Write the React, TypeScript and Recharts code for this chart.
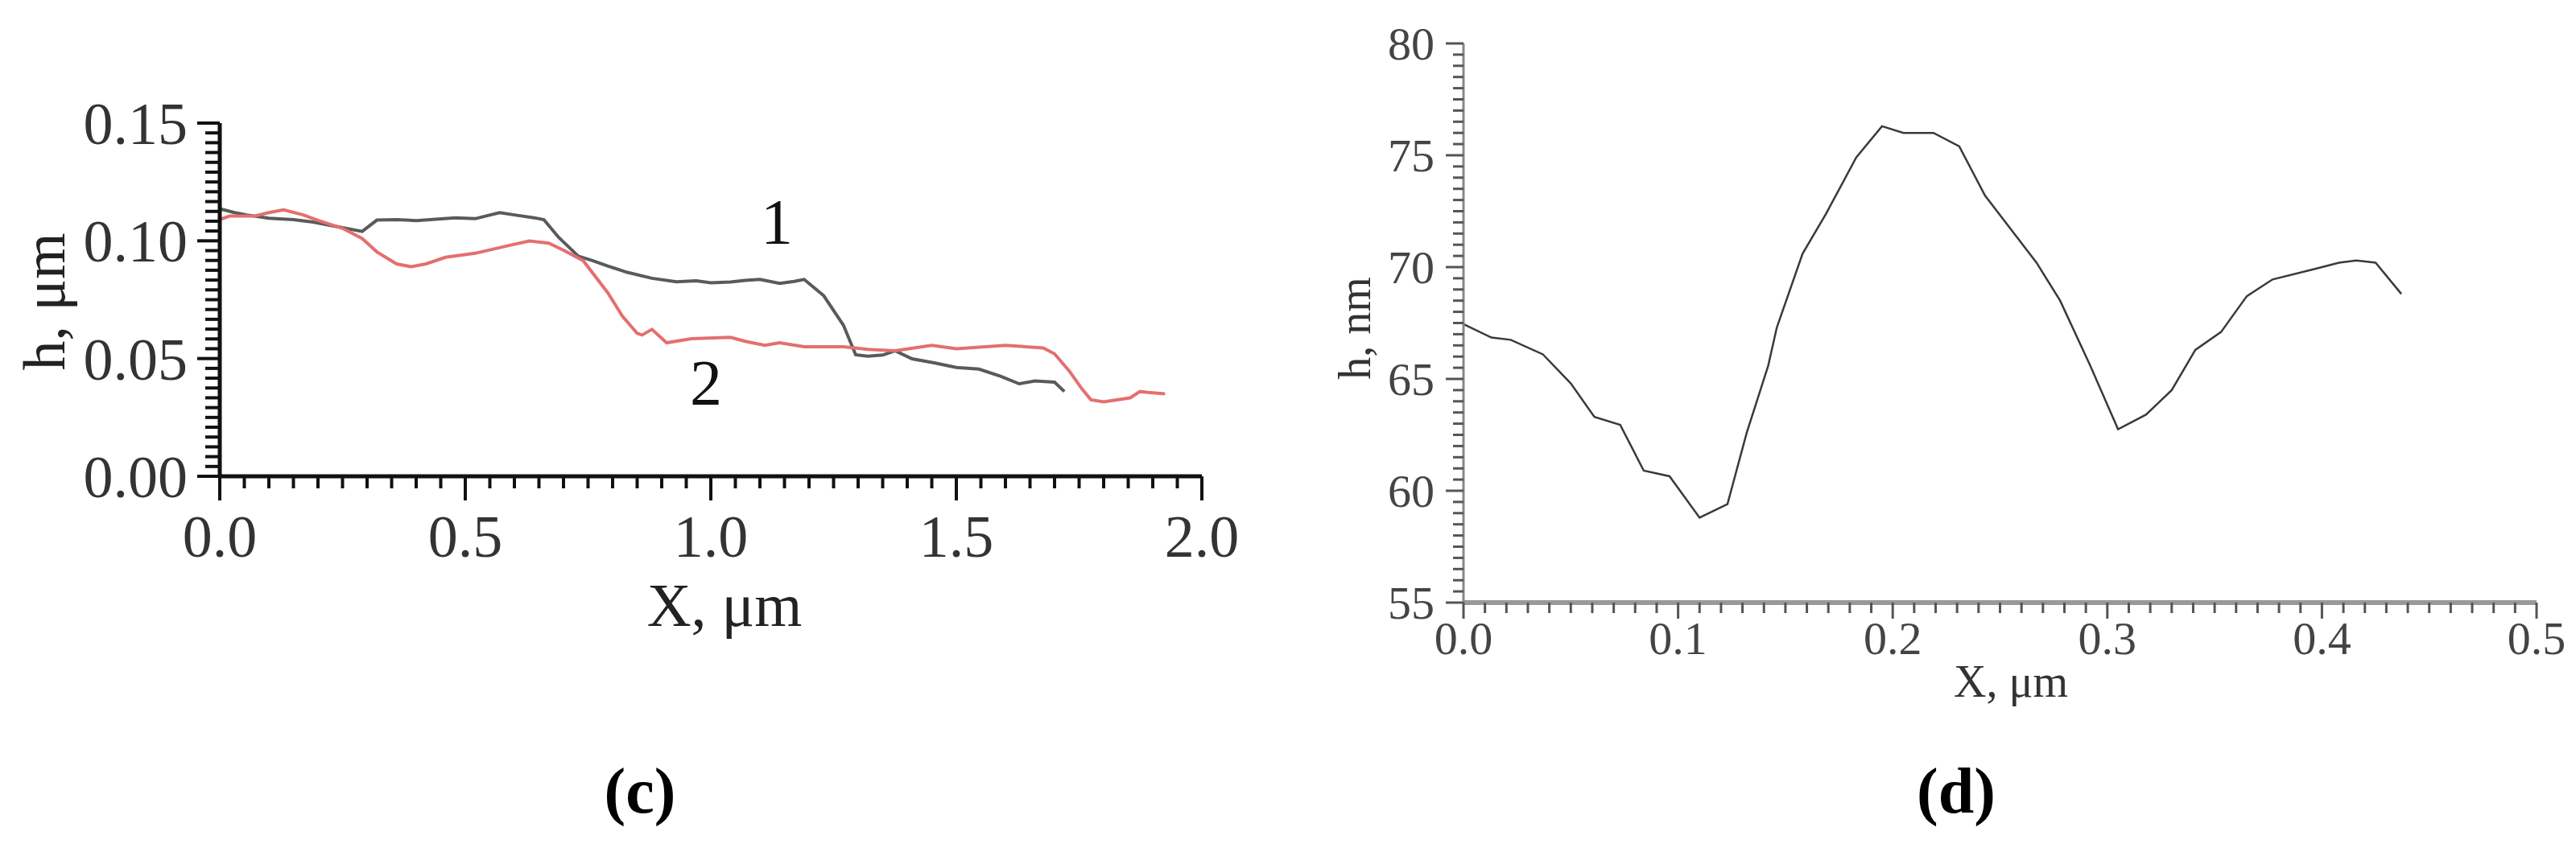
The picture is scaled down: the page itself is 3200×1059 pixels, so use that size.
import { Line, LineChart, XAxis, YAxis } from "recharts";

// panel (c): two height profiles, X in µm, h in µm
const profile1 = [
  { x: 0.0, h: 0.1136 }, { x: 0.03, h: 0.112 }, { x: 0.055, h: 0.111 }, { x: 0.1, h: 0.1096 },
  { x: 0.15, h: 0.109 }, { x: 0.19, h: 0.108 }, { x: 0.25, h: 0.1056 }, { x: 0.29, h: 0.104 },
  { x: 0.32, h: 0.1088 }, { x: 0.36, h: 0.109 }, { x: 0.4, h: 0.1086 }, { x: 0.44, h: 0.1092 },
  { x: 0.48, h: 0.1098 }, { x: 0.52, h: 0.1094 }, { x: 0.57, h: 0.112 }, { x: 0.6, h: 0.111 },
  { x: 0.64, h: 0.1098 }, { x: 0.66, h: 0.109 }, { x: 0.69, h: 0.1015 }, { x: 0.73, h: 0.0935 },
  { x: 0.76, h: 0.0915 }, { x: 0.79, h: 0.0893 }, { x: 0.83, h: 0.0866 }, { x: 0.88, h: 0.0841 },
  { x: 0.93, h: 0.0826 }, { x: 0.97, h: 0.083 }, { x: 1.0, h: 0.0822 }, { x: 1.04, h: 0.0825 },
  { x: 1.07, h: 0.0832 }, { x: 1.1, h: 0.0836 }, { x: 1.14, h: 0.0819 }, { x: 1.17, h: 0.0828 },
  { x: 1.19, h: 0.0836 }, { x: 1.23, h: 0.0767 }, { x: 1.27, h: 0.0642 }, { x: 1.295, h: 0.0516 },
  { x: 1.32, h: 0.051 }, { x: 1.35, h: 0.0515 }, { x: 1.375, h: 0.0533 }, { x: 1.41, h: 0.0499 },
  { x: 1.455, h: 0.0482 }, { x: 1.5, h: 0.0462 }, { x: 1.546, h: 0.0455 }, { x: 1.59, h: 0.0425 },
  { x: 1.628, h: 0.0393 }, { x: 1.66, h: 0.0405 }, { x: 1.7, h: 0.04 }, { x: 1.72, h: 0.036 },
];

const profile2 = [
  { x: 0.0, h: 0.109 }, { x: 0.02, h: 0.1105 }, { x: 0.07, h: 0.1105 }, { x: 0.1, h: 0.112 },
  { x: 0.13, h: 0.1132 }, { x: 0.17, h: 0.111 }, { x: 0.2, h: 0.1087 }, { x: 0.25, h: 0.1053 },
  { x: 0.29, h: 0.101 }, { x: 0.32, h: 0.0953 }, { x: 0.36, h: 0.0902 }, { x: 0.39, h: 0.089 },
  { x: 0.42, h: 0.0902 }, { x: 0.46, h: 0.093 }, { x: 0.52, h: 0.0947 }, { x: 0.58, h: 0.0976 },
  { x: 0.63, h: 0.0999 }, { x: 0.67, h: 0.099 }, { x: 0.7, h: 0.096 }, { x: 0.74, h: 0.0916 },
  { x: 0.79, h: 0.078 }, { x: 0.82, h: 0.068 }, { x: 0.85, h: 0.0607 }, { x: 0.86, h: 0.06 },
  { x: 0.88, h: 0.0624 }, { x: 0.91, h: 0.0567 }, { x: 0.96, h: 0.0584 }, { x: 1.04, h: 0.059 },
  { x: 1.07, h: 0.0573 }, { x: 1.11, h: 0.0556 }, { x: 1.14, h: 0.0567 }, { x: 1.19, h: 0.055 },
  { x: 1.27, h: 0.055 }, { x: 1.32, h: 0.0539 }, { x: 1.375, h: 0.0533 }, { x: 1.45, h: 0.0556 },
  { x: 1.5, h: 0.0542 }, { x: 1.6, h: 0.0556 }, { x: 1.677, h: 0.0545 }, { x: 1.7, h: 0.052 },
  { x: 1.73, h: 0.0447 }, { x: 1.757, h: 0.0368 }, { x: 1.774, h: 0.0325 }, { x: 1.8, h: 0.0316 },
  { x: 1.854, h: 0.0333 }, { x: 1.874, h: 0.036 }, { x: 1.89, h: 0.0356 }, { x: 1.925, h: 0.035 },
];

// panel (d): single profile, X in µm, h in nm
const profileD = [
  { x: 0.0, h: 67.45 }, { x: 0.013, h: 66.85 }, { x: 0.022, h: 66.75 }, { x: 0.037, h: 66.1 },
  { x: 0.05, h: 64.8 }, { x: 0.061, h: 63.3 }, { x: 0.073, h: 62.95 }, { x: 0.084, h: 60.9 },
  { x: 0.096, h: 60.65 }, { x: 0.11, h: 58.8 }, { x: 0.123, h: 59.4 }, { x: 0.132, h: 62.6 },
  { x: 0.142, h: 65.6 }, { x: 0.146, h: 67.3 }, { x: 0.158, h: 70.6 }, { x: 0.169, h: 72.4 },
  { x: 0.183, h: 74.9 }, { x: 0.195, h: 76.3 }, { x: 0.205, h: 76.0 }, { x: 0.219, h: 76.0 },
  { x: 0.231, h: 75.4 }, { x: 0.243, h: 73.2 }, { x: 0.255, h: 71.7 }, { x: 0.267, h: 70.2 },
  { x: 0.278, h: 68.5 }, { x: 0.292, h: 65.6 }, { x: 0.305, h: 62.75 }, { x: 0.318, h: 63.4 },
  { x: 0.33, h: 64.5 }, { x: 0.341, h: 66.3 }, { x: 0.353, h: 67.1 }, { x: 0.365, h: 68.7 },
  { x: 0.377, h: 69.45 }, { x: 0.396, h: 69.9 }, { x: 0.408, h: 70.2 }, { x: 0.416, h: 70.3 },
  { x: 0.425, h: 70.2 }, { x: 0.437, h: 68.8 },
];

const cXMajors = [0, 0.5, 1, 1.5, 2];
const cXLabels = ["0.0", "0.5", "1.0", "1.5", "2.0"];
const cYMajors = [0, 0.05, 0.1, 0.15];
const cYLabels = ["0.00", "0.05", "0.10", "0.15"];
const dXMajors = [0, 0.1, 0.2, 0.3, 0.4, 0.5];
const dXLabels = ["0.0", "0.1", "0.2", "0.3", "0.4", "0.5"];
const dYMajors = [55, 60, 65, 70, 75, 80];
const dYLabels = ["55", "60", "65", "70", "75", "80"];

const serif = '"Liberation Serif", "Times New Roman", serif';

// majors plus evenly spaced minor ticks between them
function withMinors(majors: number[], perMajor: number) {
  const out: number[] = [];
  for (let i = 0; i < majors.length - 1; i++) {
    const step = (majors[i + 1] - majors[i]) / perMajor;
    for (let k = 0; k < perMajor; k++) out.push(+(majors[i] + k * step).toFixed(6));
  }
  out.push(majors[majors.length - 1]);
  return out;
}

type TickCfg = {
  side: "bottom" | "left";
  majors: number[];
  labels: string[];
  minorLen: number;
  majorLen: number;
  tickColor: string;
  tickWidth: number;
  fontSize: number;
  textColor: string;
  gap: number;
};

function AxisTick(props: any) {
  const { x, y, payload, cfg } = props as { x: number; y: number; payload: { value: number }; cfg: TickCfg };
  const idx = cfg.majors.findIndex((m) => Math.abs(m - payload.value) < 1e-6);
  const len = idx >= 0 ? cfg.majorLen : cfg.minorLen;
  if (cfg.side === "bottom") {
    return (
      <g>
        <line x1={x} y1={y} x2={x} y2={y + len} stroke={cfg.tickColor} strokeWidth={cfg.tickWidth} />
        {idx >= 0 && (
          <text x={x} y={y + cfg.gap} textAnchor="middle" fontFamily={serif} fontSize={cfg.fontSize} fill={cfg.textColor}>
            {cfg.labels[idx]}
          </text>
        )}
      </g>
    );
  }
  return (
    <g>
      <line x1={x} y1={y} x2={x - len} y2={y} stroke={cfg.tickColor} strokeWidth={cfg.tickWidth} />
      {idx >= 0 && (
        <text x={x - cfg.gap} y={y} dy="0.35em" textAnchor="end" fontFamily={serif} fontSize={cfg.fontSize} fill={cfg.textColor}>
          {cfg.labels[idx]}
        </text>
      )}
    </g>
  );
}

const cXTick: TickCfg = { side: "bottom", majors: cXMajors, labels: cXLabels, minorLen: 15, majorLen: 30, tickColor: "#111", tickWidth: 4, fontSize: 74, textColor: "#333", gap: 100 };
const cYTick: TickCfg = { side: "left", majors: cYMajors, labels: cYLabels, minorLen: 18, majorLen: 28, tickColor: "#111", tickWidth: 4, fontSize: 74, textColor: "#333", gap: 40 };
const dXTick: TickCfg = { side: "bottom", majors: dXMajors, labels: dXLabels, minorLen: 13, majorLen: 20, tickColor: "#555", tickWidth: 3, fontSize: 58, textColor: "#444", gap: 64 };
const dYTick: TickCfg = { side: "left", majors: dYMajors, labels: dYLabels, minorLen: 13, majorLen: 22, tickColor: "#555", tickWidth: 3, fontSize: 58, textColor: "#444", gap: 36 };

function PanelC() {
  return (
    <LineChart width={1600} height={1059} margin={{ top: 153, right: 107, bottom: 466, left: 272 }}>
      <XAxis
        dataKey="x"
        type="number"
        domain={[0, 2]}
        ticks={withMinors(cXMajors, 10)}
        interval={0}
        height={1}
        tickSize={0}
        tickMargin={0}
        tickLine={false}
        axisLine={{ stroke: "#111", strokeWidth: 5 }}
        tick={(p: any) => <AxisTick {...p} cfg={cXTick} />}
      />
      <YAxis
        type="number"
        domain={[0, 0.15]}
        ticks={withMinors(cYMajors, 12)}
        interval={0}
        width={1}
        tickSize={0}
        tickMargin={0}
        tickLine={false}
        axisLine={{ stroke: "#111", strokeWidth: 5 }}
        tick={(p: any) => <AxisTick {...p} cfg={cYTick} />}
      />
      <Line data={profile1} dataKey="h" type="linear" stroke="#5a5a5a" strokeWidth={4} dot={false} isAnimationActive={false} />
      <Line data={profile2} dataKey="h" type="linear" stroke="#e46f6f" strokeWidth={4} dot={false} isAnimationActive={false} />
    </LineChart>
  );
}

function PanelD() {
  return (
    <LineChart width={1600} height={1059} margin={{ top: 54, right: 49, bottom: 309, left: 217 }}>
      <XAxis
        dataKey="x"
        type="number"
        domain={[0, 0.5]}
        ticks={withMinors(dXMajors, 10)}
        interval={0}
        height={1}
        tickSize={0}
        tickMargin={0}
        tickLine={false}
        axisLine={{ stroke: "#999", strokeWidth: 6 }}
        tick={(p: any) => <AxisTick {...p} cfg={dXTick} />}
      />
      <YAxis
        type="number"
        domain={[55, 80]}
        ticks={withMinors(dYMajors, 10)}
        interval={0}
        width={1}
        tickSize={0}
        tickMargin={0}
        tickLine={false}
        axisLine={{ stroke: "#888", strokeWidth: 3 }}
        tick={(p: any) => <AxisTick {...p} cfg={dYTick} />}
      />
      <Line data={profileD} dataKey="h" type="linear" stroke="#3a3a3a" strokeWidth={2.5} dot={false} isAnimationActive={false} />
    </LineChart>
  );
}

export default function App() {
  return (
    <div style={{ position: "absolute", left: 0, top: 0, width: 3200, height: 1059, background: "#fff", overflow: "hidden" }}>
      <div style={{ position: "absolute", left: 0, top: 0 }}>
        <PanelC />
      </div>
      <div style={{ position: "absolute", left: 1600, top: 0 }}>
        <PanelD />
      </div>
      <svg width={3200} height={1059} style={{ position: "absolute", left: 0, top: 0, pointerEvents: "none" }} fontFamily={serif}>
        <text x={900} y={778} textAnchor="middle" fontSize={76} fill="#222">X, μm</text>
        <text transform="translate(80,375) rotate(-90)" textAnchor="middle" fontSize={74} fill="#222">h, μm</text>
        <text x={965} y={303} textAnchor="middle" fontSize={80} fill="#111">1</text>
        <text x={877} y={503} textAnchor="middle" fontSize={80} fill="#111">2</text>
        <text x={795} y={1010} textAnchor="middle" fontSize={80} fontWeight="bold" fill="#000">(c)</text>
        <text x={2498} y={866} textAnchor="middle" fontSize={56} fill="#333">X, μm</text>
        <text transform="translate(1702,408) rotate(-90)" textAnchor="middle" fontSize={56} fill="#333">h, nm</text>
        <text x={2430} y={1010} textAnchor="middle" fontSize={80} fontWeight="bold" fill="#000">(d)</text>
      </svg>
    </div>
  );
}
